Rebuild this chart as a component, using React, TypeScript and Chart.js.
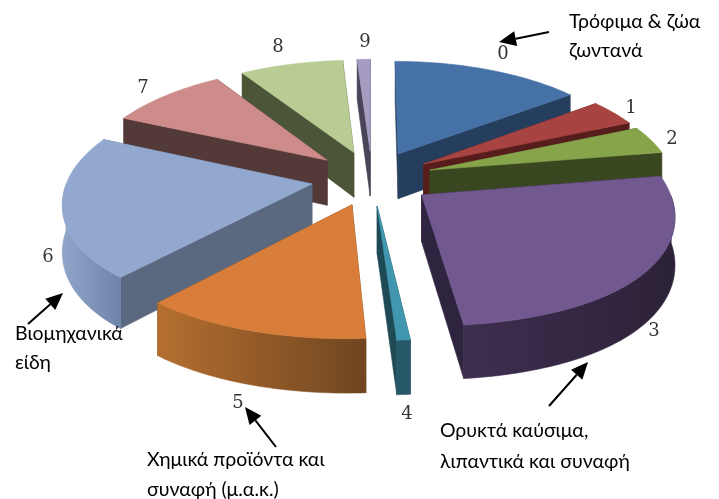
import React, { useEffect, useRef } from "react";
import { Chart, registerables } from "chart.js";

Chart.register(...registerables);

const categories = ["0", "1", "2", "3", "4", "5", "6", "7", "8", "9"];
const shares = [14.5, 3.8, 4.0, 26.0, 0.7, 12.2, 20.6, 9.2, 7.9, 1.0];
const topColors = ["#4571A7", "#A74442", "#87A44B", "#71588F", "#4197AF", "#D87E3A", "#92A8CE", "#CD8C8A", "#B8CC93", "#A69BC0"];
const wallColors = ["#263E5E", "#571D1C", "#394720", "#2F243F", "#1E4A55", "#6F4620", "#5A6880", "#533938", "#4D5539", "#4A4458"];
const rimStartColors = ["#263E5E", "#571D1C", "#394720", "#2C2238", "#275868", "#6F4620", "#6E85A9", "#533938", "#4D5539", "#4A4458"];
const rimEndColors = ["#263E5E", "#571D1C", "#394720", "#3E2E50", "#275868", "#B56E30", "#8DA3C8", "#533938", "#4D5539", "#4A4458"];

const labelAnchors = [[503, 54], [631, 108], [672, 139], [654, 331], [407, 414], [238, 403], [48, 257], [143, 88], [278, 47], [365, 42]];
const noteLines = [
  ["Τρόφιμα & ζώα", 569, 28], ["ζωντανά", 569, 57],
  ["Ορυκτά καύσιμα,", 440, 437], ["λιπαντικά και συναφή", 440, 468],
  ["Βιομηχανικά", 15, 340], ["είδη", 15, 369],
  ["Χημικά προϊόντα και", 147, 466], ["συναφή (μ.α.κ.)", 147, 496],
];
const arrows = [[549, 32, 499, 42], [549, 406, 588, 362], [28, 324, 63, 293], [276, 447, 245, 407]];

const PERSPECTIVE_Y = 0.125;
const PERSPECTIVE_X = 0.13;
const PERSPECTIVE_X_FRONT = 0.04;
const SQUASH = 0.45;
const DEPTH = 46;

const pie3d = {
  id: "pie3d",
  beforeDatasetsDraw(chart: any) {
    const ctx = chart.ctx;
    const arcs = chart.getDatasetMeta(0).data;
    const project = (el: any, u: number, v: number, z: number) => {
      const sy = 1 / (1 - PERSPECTIVE_Y * v);
      const kx = PERSPECTIVE_X + PERSPECTIVE_X_FRONT * Math.min(1, Math.max(0, v));
      const sx = 1 / (1 - kx * v);
      const r = el.outerRadius;
      return [el.x + u * r * sx, el.y + (v * r * SQUASH + z * DEPTH) * sy];
    };
    const poly = (pts: number[][], color: any) => {
      ctx.beginPath();
      pts.forEach((p, i) => (i ? ctx.lineTo(p[0], p[1]) : ctx.moveTo(p[0], p[1])));
      ctx.closePath();
      ctx.fillStyle = color;
      ctx.strokeStyle = color;
      ctx.lineWidth = 0.6;
      ctx.fill();
      ctx.stroke();
    };
    const order = arcs
      .map((el: any, i: number) => ({ el, i, key: Math.sin((el.startAngle + el.endAngle) / 2) }))
      .sort((a: any, b: any) => a.key - b.key);
    ctx.save();
    for (const { el, i } of order) {
      const mid = (el.startAngle + el.endAngle) / 2;
      const off = (el.options.offset || 0) / el.outerRadius;
      const ax = off * Math.cos(mid);
      const ay = off * Math.sin(mid);
      const steps = Math.max(2, Math.ceil((el.endAngle - el.startAngle) / 0.02));
      const rim: number[][] = [];
      for (let k = 0; k <= steps; k++) {
        const a = el.startAngle + ((el.endAngle - el.startAngle) * k) / steps;
        rim.push([ax + Math.cos(a), ay + Math.sin(a), a]);
      }
      const first = rim[0];
      const last = rim[steps];
      poly([project(el, ax, ay, 0), project(el, first[0], first[1], 0), project(el, first[0], first[1], 1), project(el, ax, ay, 1)], wallColors[i]);
      poly([project(el, ax, ay, 0), project(el, last[0], last[1], 0), project(el, last[0], last[1], 1), project(el, ax, ay, 1)], wallColors[i]);
      const visible = rim.filter((p) => Math.sin(p[2]) >= 0);
      if (visible.length > 1) {
        const a = project(el, visible[0][0], visible[0][1], 0);
        const b = project(el, visible[visible.length - 1][0], visible[visible.length - 1][1], 0);
        const grad = ctx.createLinearGradient(a[0], 0, b[0], 0);
        grad.addColorStop(0, rimStartColors[i]);
        grad.addColorStop(1, rimEndColors[i]);
        poly(
          [
            ...visible.map((p) => project(el, p[0], p[1], 0)),
            ...visible.slice().reverse().map((p) => project(el, p[0], p[1], 1)),
          ],
          grad
        );
      }
      poly([project(el, ax, ay, 0), ...rim.map((p) => project(el, p[0], p[1], 0))], el.options.backgroundColor);
    }

    ctx.fillStyle = "#333333";
    ctx.font = "18px 'DejaVu Serif'";
    ctx.textAlign = "center";
    ctx.textBaseline = "middle";
    chart.data.labels.forEach((t: string, i: number) => ctx.fillText(t, labelAnchors[i][0], labelAnchors[i][1]));

    ctx.fillStyle = "#000000";
    ctx.font = "19.5px Lato, 'Noto Sans'";
    ctx.textAlign = "left";
    ctx.textBaseline = "alphabetic";
    noteLines.forEach((n) => ctx.fillText(n[0] as string, n[1] as number, n[2] as number));

    arrows.forEach(([x0, y0, x1, y1]) => {
      const ang = Math.atan2(y1 - y0, x1 - x0);
      const len = 17;
      const hw = 7.5;
      const bx = x1 - Math.cos(ang) * len;
      const by = y1 - Math.sin(ang) * len;
      ctx.strokeStyle = "#000000";
      ctx.lineWidth = 2;
      ctx.beginPath();
      ctx.moveTo(x0, y0);
      ctx.lineTo(bx, by);
      ctx.stroke();
      ctx.fillStyle = "#000000";
      ctx.beginPath();
      ctx.moveTo(x1, y1);
      ctx.lineTo(bx - Math.sin(ang) * hw, by + Math.cos(ang) * hw);
      ctx.lineTo(bx + Math.sin(ang) * hw, by - Math.cos(ang) * hw);
      ctx.closePath();
      ctx.fill();
    });
    ctx.restore();
    return false;
  },
};

export default function App() {
  const ref = useRef<HTMLCanvasElement>(null);
  useEffect(() => {
    const chart = new Chart(ref.current as HTMLCanvasElement, {
      type: "pie",
      data: {
        labels: categories,
        datasets: [{ data: shares, backgroundColor: topColors, offset: 61, borderWidth: 0 }],
      },
      options: {
        animation: false,
        responsive: false,
        radius: 244,
        layout: { padding: { left: 25, bottom: 143 } },
        plugins: { legend: { display: false }, tooltip: { enabled: false } },
      },
      plugins: [pie3d],
    } as any);
    return () => chart.destroy();
  }, []);
  return (
    <div style={{ position: "fixed", left: 0, top: 0, width: 719, height: 499, background: "#fff" }}>
      <canvas ref={ref} width={719} height={499} style={{ display: "block" }} />
    </div>
  );
}
